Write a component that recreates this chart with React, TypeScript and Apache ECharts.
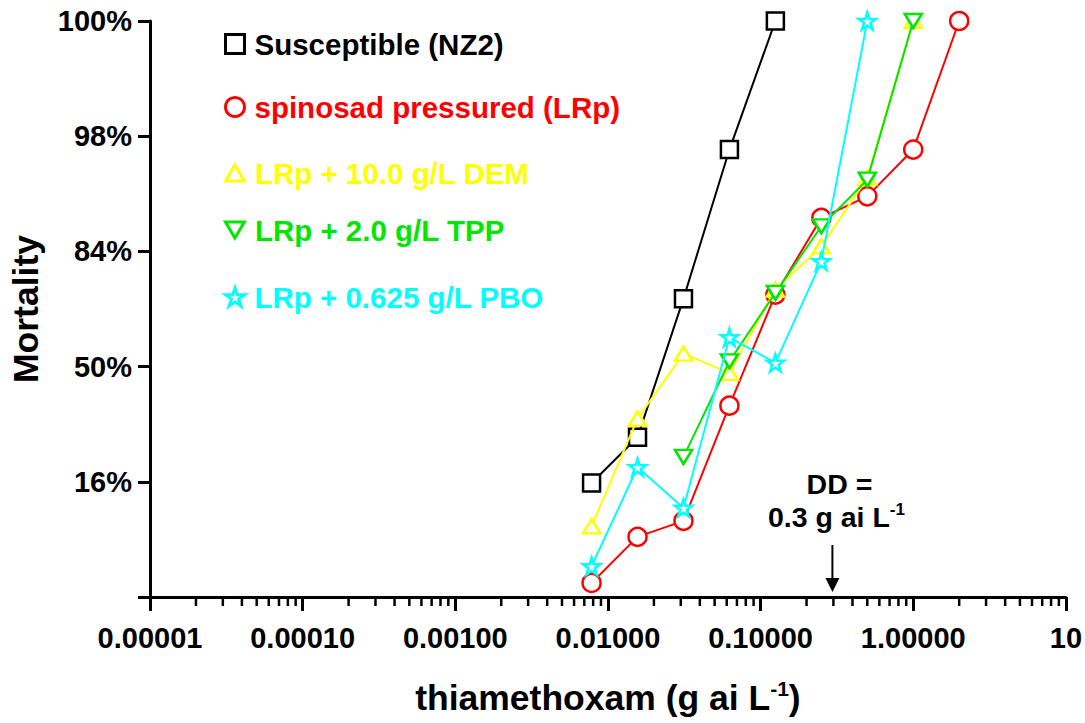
import React, { useEffect, useRef } from "react";
import * as echarts from "echarts";

// ---------- data (mortality expressed in probit units: 50% = 0, 84% = 1, 98% = 2, 16% = -1) ----------
const nz2Dose = [0.0078125, 0.015625, 0.03125, 0.0625, 0.125];
const nz2Probit = [-1.01, -0.614, 0.59, 1.884, 3];

const lrpDose = [0.0078125, 0.015625, 0.03125, 0.0625, 0.125, 0.25, 0.5, 1, 2];
const lrpProbit = [-1.878, -1.478, -1.339, -0.339, 0.625, 1.291, 1.478, 1.884, 3];

const demDose = [0.0078125, 0.015625, 0.03125, 0.0625, 0.125, 0.25, 0.5, 1];
const demProbit = [-1.386, -0.451, 0.113, -0.055, 0.668, 1.044, 1.638, 3];

const tppDose = [0.03125, 0.0625, 0.125, 0.25, 0.5, 1];
const tppProbit = [-0.784, 0.046, 0.64, 1.218, 1.623, 3];

const pboDose = [0.0078125, 0.015625, 0.03125, 0.0625, 0.125, 0.25, 0.5];
const pboProbit = [-1.733, -0.874, -1.227, 0.254, 0.032, 0.914, 3];

const seriesNames = [
  "Susceptible (NZ2)",
  "spinosad pressured (LRp)",
  "LRp + 10.0 g/L DEM",
  "LRp + 2.0 g/L TPP",
  "LRp + 0.625 g/L PBO",
];

const yTickLabels: Record<string, string> = {
  "-2": "",
  "-1": "16%",
  "0": "50%",
  "1": "84%",
  "2": "98%",
  "3": "100%",
};

const DD_DOSE = 0.3;
const X_MIN = 0.00001;
const X_MAX = 10;
const Y_MIN = -2;
const Y_MAX = 3;

// ---------- styling ----------
const FONT = 'Arial, "Liberation Sans", Helvetica, sans-serif';
const COLORS = ["#000000", "#ff0000", "#ffff00", "#00e600", "#00ffff"];
const STAR =
  "path://M50,2 L61,36 L97,36 L68,57 L79,92 L50,71 L21,92 L32,57 L3,36 L39,36 Z";
const TRI_DOWN = "path://M0,0 L20,0 L10,17 Z";
const TRI_UP = "path://M10,0 L20,17 L0,17 Z";
const SYMBOLS = ["rect", "circle", TRI_UP, TRI_DOWN, STAR];
const SYMBOL_SIZES: any[] = [17, 18, [17, 14], [17, 14], 17];
const LEGEND_CENTERS = [43, 106, 172, 229, 296];

function pairs(xs: number[], ys: number[]) {
  return xs.map((x, i) => [x, ys[i]]);
}

// minor ticks of the log axis (2..9 in each decade)
const minorTicks: number[][] = [];
for (let d = -5; d < 1; d++) {
  for (let k = 2; k <= 9; k++) {
    minorTicks.push([k * Math.pow(10, d), Y_MIN]);
  }
}

export default function App() {
  const ref = useRef<HTMLDivElement>(null);

  useEffect(() => {
    if (!ref.current) return;
    const chart = echarts.init(ref.current, undefined, { renderer: "svg" });

    const dataSets = [
      pairs(nz2Dose, nz2Probit),
      pairs(lrpDose, lrpProbit),
      pairs(demDose, demProbit),
      pairs(tppDose, tppProbit),
      pairs(pboDose, pboProbit),
    ];

    const lineSeries = dataSets.map((data, i) => ({
      name: seriesNames[i],
      type: "line",
      data,
      symbol: SYMBOLS[i],
      symbolSize: SYMBOL_SIZES[i],
      symbolKeepAspect: false,
      showAllSymbol: true,
      clip: false,
      lineStyle: { color: COLORS[i], width: 2 },
      itemStyle: { color: "#ffffff", borderColor: COLORS[i], borderWidth: 2.5 },
      emphasis: { disabled: true },
      z: 3 + i,
    }));

    const legends = seriesNames.map((name, i) => ({
      show: true,
      data: [{ name, icon: SYMBOLS[i] }],
      left: 224,
      top: LEGEND_CENTERS[i] - 14,
      padding: 0,
      itemWidth: i === 2 || i === 3 ? 20 : 19,
      itemHeight: i === 2 || i === 3 ? 16 : 19,
      selectedMode: false,
      itemStyle: { color: "#ffffff", borderColor: COLORS[i], borderWidth: 3 },
      textStyle: {
        color: COLORS[i],
        fontSize: 29.5,
        fontWeight: "bold",
        fontFamily: FONT,
        lineHeight: 28,
        padding: [0, 0, 0, 5],
      },
    }));

    const option: any = {
      animation: false,
      backgroundColor: "#ffffff",
      grid: { left: 149, right: 18, top: 21, bottom: 126, containLabel: false },
      legend: legends,
      xAxis: {
        type: "log",
        logBase: 10,
        min: X_MIN,
        max: X_MAX,
        splitNumber: 6,
        name: "{a|thiamethoxam (g ai L}{sup|-1}{a|)}",
        nameLocation: "middle",
        nameGap: 81,
        nameTextStyle: {
          rich: {
            a: { fontSize: 35.5, fontWeight: "bold", fontFamily: FONT, color: "#000", lineHeight: 40 },
            sup: {
              fontSize: 21,
              fontWeight: "bold",
              fontFamily: FONT,
              color: "#000",
              verticalAlign: "top",
              lineHeight: 20,
            },
          },
        },
        axisLine: { show: true, onZero: false, lineStyle: { color: "#000", width: 3 } },
        axisTick: { show: true, length: 14, lineStyle: { color: "#000", width: 3 } },
        splitLine: { show: false },
        axisLabel: {
          interval: 0,
          margin: 26,
          fontSize: 29,
          fontWeight: "bold",
          fontFamily: FONT,
          color: "#000",
          formatter: (v: number) => (v >= 10 ? "10" : v.toFixed(5)),
        },
      },
      yAxis: {
        type: "value",
        min: Y_MIN,
        max: Y_MAX,
        interval: 1,
        name: "Mortality",
        nameLocation: "middle",
        nameGap: 106,
        nameTextStyle: { fontSize: 35.5, fontWeight: "bold", fontFamily: FONT, color: "#000" },
        axisLine: { show: true, onZero: false, lineStyle: { color: "#000", width: 3 } },
        axisTick: { show: true, length: 12, lineStyle: { color: "#000", width: 3 } },
        splitLine: { show: false },
        axisLabel: {
          margin: 18,
          fontSize: 29,
          fontWeight: "bold",
          fontFamily: FONT,
          color: "#000",
          formatter: (v: number) => yTickLabels[String(Math.round(v))] ?? "",
        },
      },
      series: [
        ...lineSeries,
        {
          name: "minorTicks",
          type: "custom",
          data: minorTicks,
          clip: false,
          silent: true,
          z: 10,
          renderItem: (_p: any, api: any) => {
            const pt = api.coord([api.value(0), api.value(1)]);
            return {
              type: "line",
              shape: { x1: pt[0], y1: pt[1], x2: pt[0], y2: pt[1] + 9 },
              style: { stroke: "#000", lineWidth: 2.5 },
            };
          },
        },
        {
          name: "ddAnnotation",
          type: "custom",
          data: [[DD_DOSE, Y_MIN]],
          clip: false,
          silent: true,
          z: 10,
          renderItem: (_p: any, api: any) => {
            const pt = api.coord([api.value(0), api.value(1)]);
            const x = pt[0] - 1;
            const y = pt[1];
            return {
              type: "group",
              children: [
                {
                  type: "line",
                  shape: { x1: x, y1: y - 52, x2: x, y2: y - 16 },
                  style: { stroke: "#000", lineWidth: 2 },
                },
                {
                  type: "polygon",
                  shape: { points: [[x - 7, y - 19], [x + 7, y - 19], [x, y - 5]] },
                  style: { fill: "#000" },
                },
                {
                  type: "text",
                  x: x + 7,
                  y: y - 113,
                  style: {
                    text: "DD =",
                    fontSize: 28.5,
                    fontWeight: "bold",
                    fontFamily: FONT,
                    fill: "#000",
                    align: "center",
                    verticalAlign: "middle",
                  },
                },
                {
                  type: "text",
                  x: x + 4,
                  y: y - 80,
                  style: {
                    text: "{a|0.3 g ai L}{sup|-1}",
                    align: "center",
                    verticalAlign: "middle",
                    rich: {
                      a: { fontSize: 28.5, fontWeight: "bold", fontFamily: FONT, fill: "#000", lineHeight: 32 },
                      sup: {
                        fontSize: 17,
                        fontWeight: "bold",
                        fontFamily: FONT,
                        fill: "#000",
                        verticalAlign: "top",
                        lineHeight: 17,
                      },
                    },
                  },
                },
              ],
            };
          },
        },
      ],
    };

    chart.setOption(option);
    return () => chart.dispose();
  }, []);

  return (
    <div
      ref={ref}
      style={{ position: "fixed", left: 0, top: 0, width: 1085, height: 723, background: "#fff" }}
    />
  );
}
